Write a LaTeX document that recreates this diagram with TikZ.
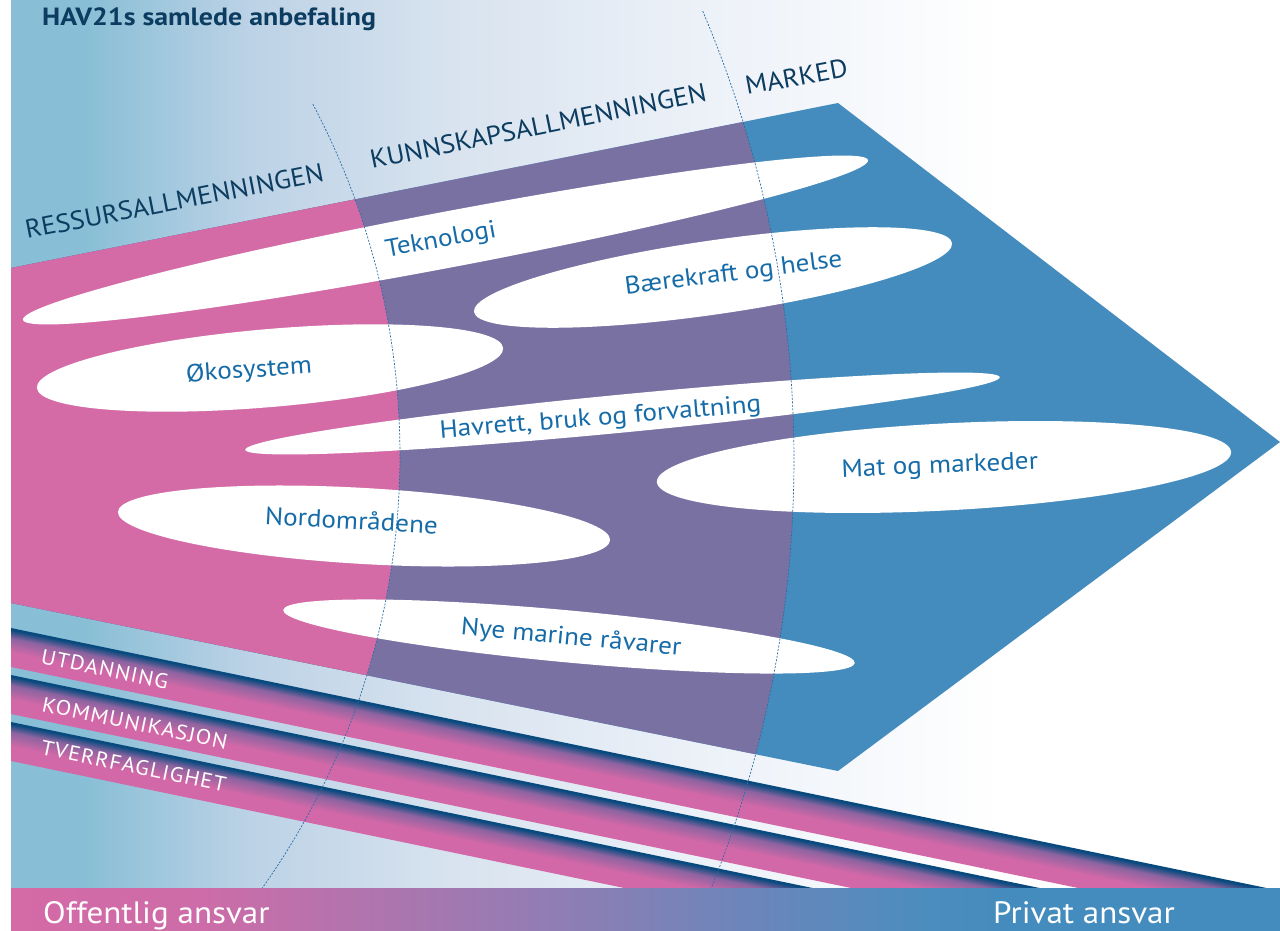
\documentclass[tikz,border=0pt]{standalone}
\usepackage{fontspec}
\setmainfont{PT Sans}
\newfontfamily\leaffont{PT Sans}[FakeStretch=1.09]
\newfontfamily\headfont{PT Sans}[FakeStretch=1.06]
\newfontfamily\bandfont{PT Sans}[FakeStretch=1.08, LetterSpace=5]
\newfontfamily\barfont{PT Sans}[FakeStretch=1.07]
\newfontfamily\titlefont{PT Sans}[FakeStretch=1.12]
\usetikzlibrary{shapes.geometric}

% --- Colours ---
\definecolor{respink}{RGB}{212,106,166}
\definecolor{knowpurple}{RGB}{122,113,163}
\definecolor{marketblue}{RGB}{68,140,189}
\definecolor{titlenavy}{RGB}{12,60,96}
\definecolor{labelblue}{RGB}{22,108,168}
\definecolor{dividerblue}{RGB}{40,110,165}
\definecolor{bgA}{RGB}{137,191,214}
\definecolor{bgB}{RGB}{188,210,230}
\definecolor{bgC}{RGB}{216,227,239}
\definecolor{bgD}{RGB}{236,241,248}
\definecolor{bandpink}{RGB}{210,104,168}
\definecolor{bandmid}{RGB}{140,100,160}
\definecolor{bandnavy}{RGB}{8,74,126}
\definecolor{barA}{RGB}{205,108,168}
\definecolor{barB}{RGB}{145,125,180}
\definecolor{barC}{RGB}{80,140,190}

% --- Shadings (path box is mapped onto 25bp..75bp) ---
\pgfdeclarehorizontalshading{bgshade}{100bp}{color(0bp)=(bgA); color(28bp)=(bgA);
  color(34.4bp)=(bgB); color(42.3bp)=(bgC); color(52.1bp)=(bgD); color(64bp)=(white); color(100bp)=(white)}
\pgfdeclareverticalshading{bandshade}{100bp}{color(0bp)=(bandpink); color(44bp)=(bandpink);
  color(62bp)=(bandmid); color(73bp)=(bandnavy); color(100bp)=(bandnavy)}
\pgfdeclarehorizontalshading{barshade}{100bp}{color(0bp)=(respink); color(25bp)=(respink);
  color(32.4bp)=(barA); color(46.2bp)=(barB); color(60bp)=(barC); color(64bp)=(marketblue); color(100bp)=(marketblue)}

\begin{document}
\begin{tikzpicture}[
    x=1bp, y=-1bp,
    % white leaves and their labels
    leaf/.style={ellipse, fill=white, inner sep=0pt},
    leaflabel/.style={text=labelblue, font=\leaffont\fontsize{25}{28}\selectfont, anchor=base, inner sep=0pt},
    % headings above the arrow
    colhead/.style={text=titlenavy, font=\headfont\fontsize{26}{30}\selectfont, anchor=base west, inner sep=0pt},
    % labels on the slanted bands
    bandlabel/.style={text=white, font=\bandfont\fontsize{21}{24}\selectfont, anchor=base west, inner sep=0pt, rotate=-11.7},
    barlabel/.style={text=white, font=\barfont\fontsize{31}{34}\selectfont, anchor=base west, inner sep=0pt},
    % dotted column borders
    divider/.style={draw=dividerblue, line width=0.7bp, dash pattern=on 2bp off 1.5bp}
]

    % --- Configuration ---
    \def\bandThick{38.2}   % band width, perpendicular
    \def\bandAngle{-11.7}  % slope of the bands

    \useasboundingbox (0,0) rectangle (1280,931);
    \fill[white] (0,0) rectangle (1280,931);
    \shade[shading=bgshade] (11,0) rectangle (1280,888);

    % ================= ARROW =================
    \coordinate (aTL) at (11,268);
    \coordinate (aTR) at (838,103);
    \coordinate (aTip) at (1280,442);
    \coordinate (aBR) at (838,771);
    \coordinate (aBL) at (11,603);

    \begin{scope}
        \clip (aTL) -- (aTR) -- (aTip) -- (aBR) -- (aBL) -- cycle;
        \fill[marketblue] (0,0) rectangle (1280,931);
        % columns are bounded by two circular arcs
        \fill[knowpurple] (0,0) -- plot[domain=-24:24.5, samples=60] ({-356+1150*cos(\x)}, {460+1150*sin(\x)}) -- (0,931) -- cycle;
        \fill[respink] (0,0) -- plot[domain=-38:40, samples=60] ({-350+750*cos(\x)}, {455+750*sin(\x)}) -- (0,931) -- cycle;
    \end{scope}

    % ================= BANDS =================
    \begin{scope}
        \clip (11,0) rectangle (1280,888);
        \foreach \top in {628, 675, 722} {
            \begin{scope}[transform canvas={shift={(11,\top)}, rotate=\bandAngle}]
                \shade[shading=bandshade] (-60,0) rectangle (1500,\bandThick);
            \end{scope}
        }
    \end{scope}

    \node[bandlabel] (utd) at (40,663) {UTDANNING};
    \node[bandlabel] (kom) at (41,711) {KOMMUNIKASJON};
    \node[bandlabel] (tve) at (40,754) {TVERRFAGLIGHET};

    % ================= LEAVES =================
    \node[leaf, minimum width=860bp, minimum height=56bp, rotate=10.7] (tek) at (445.5,240) {};
    \node[leaf, minimum width=483bp, minimum height=74bp, rotate=8.2] (baer) at (713,277.5) {};
    \node[leaf, minimum width=468bp, minimum height=78bp, rotate=4.9] (oko) at (270,368) {};
    \node[leaf, minimum width=758bp, minimum height=38bp, rotate=5.5] (hav) at (622.5,413.5) {};
    \node[leaf, minimum width=575bp, minimum height=87bp, rotate=3.0] (mat) at (944,467) {};
    \node[leaf, minimum width=493bp, minimum height=76bp, rotate=-3.3] (nord) at (364,526) {};
    \node[leaf, minimum width=574bp, minimum height=52bp, rotate=-5.3] (nye) at (569,636.5) {};

    % --- Column borders ---
    \draw[divider] plot[domain=-27.9:35.3, samples=80] ({-350+750*cos(\x)}, {455+750*sin(\x)});
    \draw[divider] plot[domain=-22.98:21.85, samples=80] ({-356+1150*cos(\x)}, {460+1150*sin(\x)});

    % --- Leaf labels ---
    \node[leaflabel, rotate=10.3] (tekL) at (442,247) {Teknologi};
    \node[leaflabel, rotate=7.3] (baerL) at (734.5,280.5) {Bærekraft og helse};
    \node[leaflabel, rotate=4.1] (okoL) at (249.5,377.5) {Økosystem};
    \node[leaflabel, rotate=4.7] (havL) at (601,425) {Havrett, bruk og forvaltning};
    \node[leaflabel, rotate=2.4] (matL) at (940,473) {Mat og markeder};
    \node[leaflabel, rotate=-3.3] (nordL) at (351,529) {Nordområdene};
    \node[leaflabel, rotate=-5.3] (nyeL) at (570.5,645) {Nye marine råvarer};

    % --- Headings ---
    \node[colhead, rotate=11] (ress) at (27,239) {RESSURSALLMENNINGEN};
    \node[colhead, rotate=11.5] (kunn) at (372,169) {KUNNSKAPSALLMENNINGEN};
    \node[colhead, rotate=10.5] (mark) at (747,95) {MARKED};
    \node[anchor=base west, inner sep=0pt, text=titlenavy, font=\titlefont\fontsize{25}{28}\selectfont\bfseries] (title) at (42,25) {HAV21s samlede anbefaling};

    % ================= BOTTOM BAR =================
    \shade[shading=barshade] (11,888) rectangle (1280,931);
    \node[barlabel] (off) at (43,923) {Offentlig ansvar};
    \node[barlabel] (priv) at (993,923) {Privat ansvar};

\end{tikzpicture}
\end{document}
